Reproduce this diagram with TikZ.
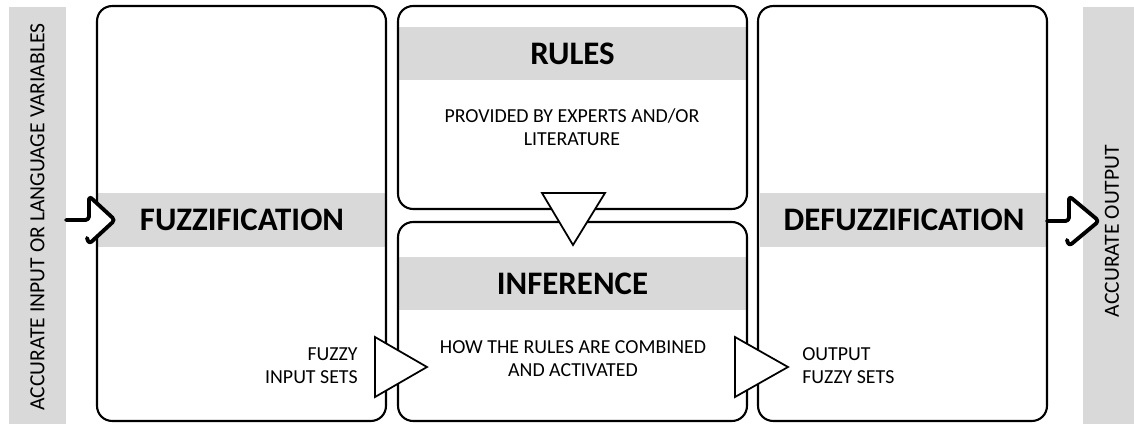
\documentclass[tikz,border=0pt]{standalone}
\usepackage{fontspec}
\setmainfont{Carlito}
\usepackage{tikz}
\usetikzlibrary{positioning}
\tikzset{stage/.style = {draw, line width=1.2pt, rounded corners=0.3cm, inner sep=0pt}}
\tikzset{band/.style = {fill=mgray, inner sep=0pt,
                        font=\fontsize{18.7}{22}\selectfont\bfseries}}
\tikzset{sidebar/.style = {fill=mgray, inner sep=0pt}}
\tikzset{sidetext/.style = {font=\fontsize{12.3}{14}\selectfont, inner sep=0pt, rotate=90}}
\tikzset{flowtri/.style = {draw, fill=white, line width=1pt, line join=miter}}
\tikzset{hook/.style = {draw, fill=white, line width=2.2pt, rounded corners=0.07cm,
                        line cap=round, line join=round}}
\tikzset{note/.style = {font=\fontsize{11.3}{13.2}\selectfont, inner sep=0pt}}
\definecolor{mgray}{RGB}{217, 217, 217}

\begin{document}
\begin{tikzpicture}[x=0.02cm, y=-0.02cm]
    \useasboundingbox (0, 0) rectangle (1134, 424);
    % side bars
    \node [sidebar, minimum width=1.14cm, minimum height=8.34cm] (inbar) at (37.5, 215.5) {};
    \node [sidebar, minimum width=1.02cm, minimum height=8.34cm] (outbar) at (1108.5, 215.5) {};
    \node [sidetext] (intext) at (37.5, 217) {ACCURATE INPUT OR LANGUAGE VARIABLES};
    \node [sidetext] (outtext) at (1112, 231) {ACCURATE OUTPUT};
    % title bands
    \node [band, minimum width=5.76cm, minimum height=1.08cm] (fuzzband) at (242, 220) {FUZZIFICATION};
    \node [band, minimum width=6.98cm, minimum height=1.06cm] (rulesband) at (572.5, 53.5) {RULES};
    \node [band, minimum width=6.98cm, minimum height=1.06cm] (infband) at (572.5, 283.5) {INFERENCE};
    \node [band, minimum width=5.78cm, minimum height=1.08cm] (defuzzband) at (904, 220) {DEFUZZIFICATION};
    % stages
    \node [stage, minimum width=5.78cm, minimum height=8.30cm] (fuzzbox) at (241.5, 213.5) {};
    \node [stage, minimum width=6.98cm, minimum height=4.06cm] (rulesbox) at (572.5, 107.5) {};
    \node [stage, minimum width=6.98cm, minimum height=3.98cm] (infbox) at (572.5, 321.5) {};
    \node [stage, minimum width=5.78cm, minimum height=8.30cm] (defuzzbox) at (902.5, 213.5) {};
    % notes
    \node [note, align=center] (rulesnote) at (572, 127.5) {PROVIDED BY EXPERTS AND/OR\\LITERATURE};
    \node [note, align=center] (infnote) at (573, 359) {HOW THE RULES ARE COMBINED\\AND ACTIVATED};
    \node [note, align=right, anchor=east] (innote) at (358, 366) {FUZZY\\INPUT SETS};
    \node [note, align=left, anchor=west] (outnote) at (802, 366) {OUTPUT\\FUZZY SETS};
    % flow markers
    \draw [flowtri] (542, 193) -- (605, 193) -- (573, 245) -- cycle;
    \draw [flowtri] (375, 337) -- (375, 397) -- (427, 367) -- cycle;
    \draw [flowtri] (735, 337) -- (735, 397) -- (788, 367) -- cycle;
    % in and out arrows
    \coordinate (inhook) at (66, 220);
    \coordinate (outhook) at (1047, 221);
    \draw [hook] (inhook) -- ++(23, 0) -- ++(0, -24) -- ++(26, 24) -- ++(-26, 24) -- ++(-2, -6);
    \draw [hook] (outhook) -- ++(22, 0) -- ++(0, -25) -- ++(30, 25) -- ++(-30, 25) -- ++(-2, -6);
\end{tikzpicture}
\end{document}
